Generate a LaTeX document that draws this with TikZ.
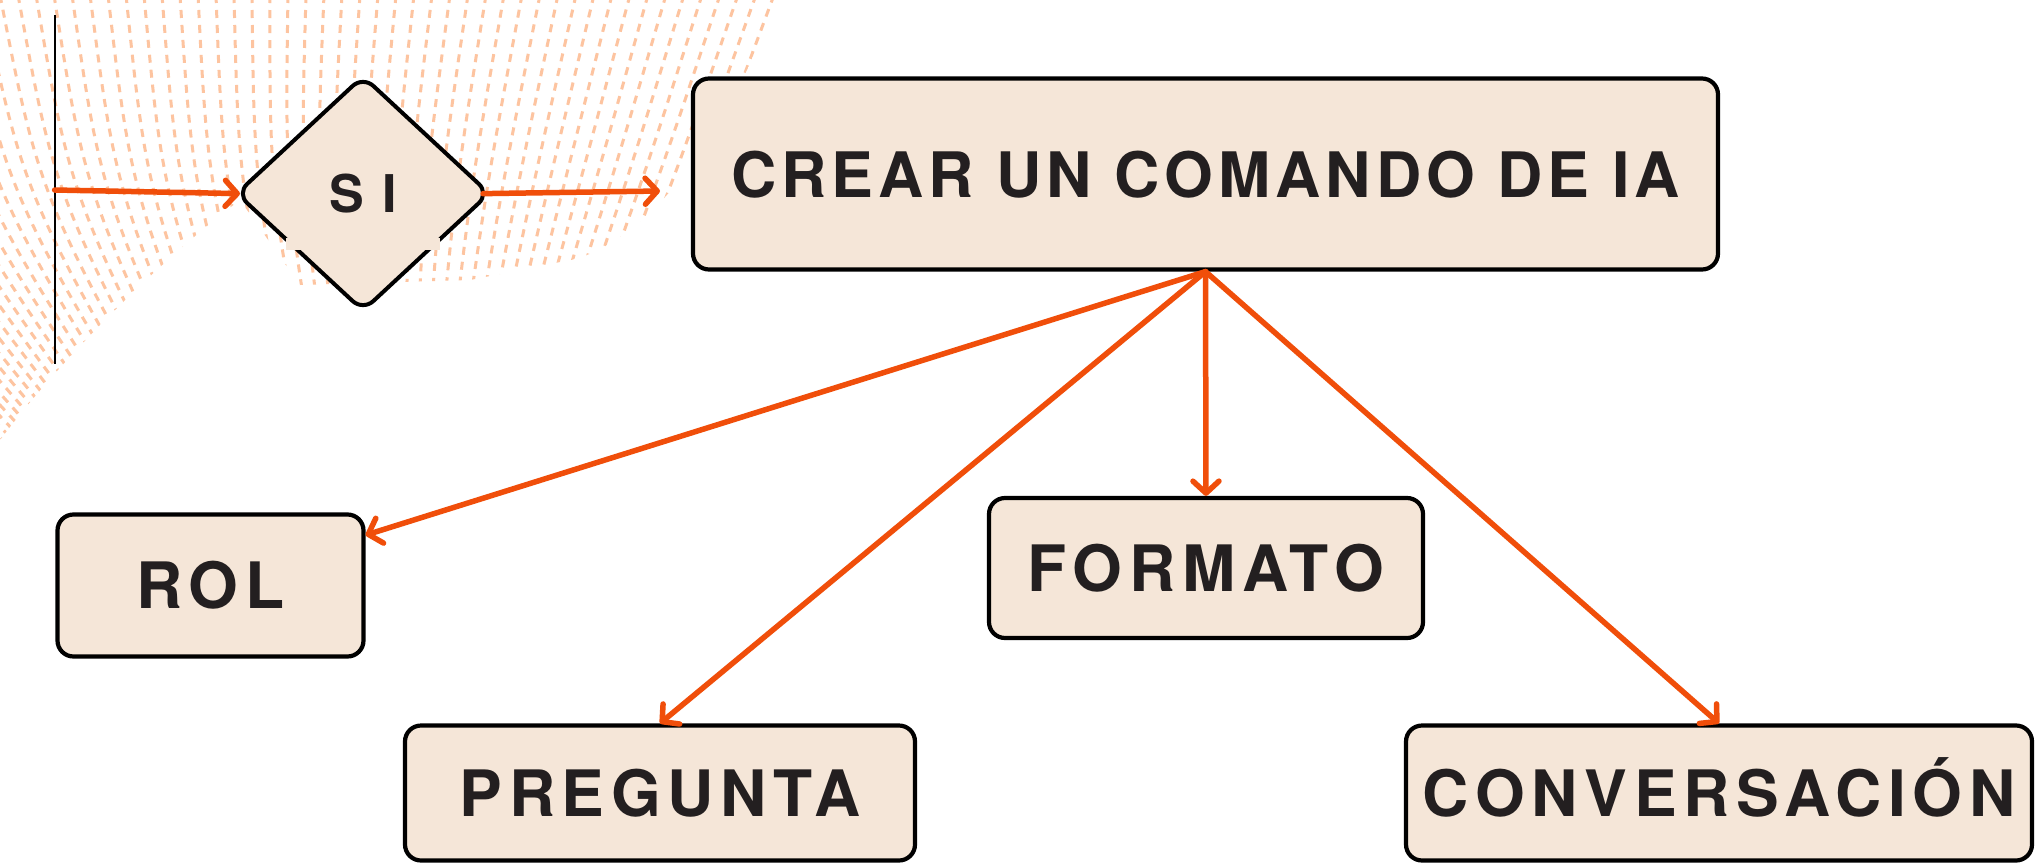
\documentclass[tikz,border=0pt]{standalone}
\usepackage{fontspec}
\usetikzlibrary{arrows.meta,shapes.geometric}
\newfontfamily\lblfont[LetterSpace=8]{TeX Gyre Heros}
\newfontfamily\lblfontw[LetterSpace=10.5]{TeX Gyre Heros}
\definecolor{boxfill}{RGB}{245,230,216}
\definecolor{arr}{RGB}{240,78,10}
\definecolor{txt}{RGB}{35,31,32}
\definecolor{dotc}{RGB}{253,196,160}
\tikzset{
  box/.style={draw=black, line width=4.2pt, fill=boxfill, rounded corners=16pt,
    inner sep=0pt, text=txt, text height=46pt, text depth=0pt,
    font=\lblfontw\bfseries\fontsize{64}{70}\selectfont},
  bigbox/.style={box, font=\lblfont\bfseries\fontsize{62.7}{70}\selectfont},
  decision/.style={diamond, draw=black, line width=4pt, fill=boxfill, rounded corners=14pt,
    inner sep=0pt, text=txt, text height=37pt, text depth=0pt,
    font=\lblfont\bfseries\fontsize{52}{56}\selectfont},
  conn/.style={draw=arr, line width=5.5pt, line cap=round,
    -{Straight Barb[length=12pt,width=26pt,line width=5.5pt,round]}},
  dotline/.style={draw=dotc, line width=3pt, dash pattern=on 8pt off 7pt}
}
\begin{document}
\begin{tikzpicture}[x=1pt,y=-1pt]
\useasboundingbox (0,0) rectangle (2037,865);
\fill[white] (0,0) rectangle (2037,865);
% decorative dotted wave
\begin{scope}
\clip (0,0) -- (775,0) .. controls (735,120) and (650,250) .. (560,262) -- (470,280) -- (300,285) -- (240,200) .. controls (160,260) and (60,360) .. (0,440) -- cycle;
\foreach \i in {-25,...,50} {
  \draw[dotline] ({\i*18},-5) .. controls ({\i*18*0.85+40},200) .. ({380+(\i*18-380)*0.45},500);
}
\end{scope}
% vertical line
\coordinate (vt) at (54.6,15);
\coordinate (vb) at (54.6,364);
\coordinate (vm) at (54.6,190);
\draw[line width=2pt] (vt) -- (vb);
% nodes
\node[decision, minimum width=254pt, minimum height=236pt] (si) at (363,193.5) {S I};
\fill[boxfill] (286,238) rectangle (302,250);
\fill[boxfill] (424,238) rectangle (440,250);
\coordinate (sinext) at (660,191);
\node[bigbox, minimum width=1025pt, minimum height=191pt] (crear) at (1205.5,174) {CREAR UN COMANDO DE IA};
\node[box, minimum width=306pt, minimum height=142pt] (rol) at (210.5,585.5) {ROL};
\node[box, minimum width=434pt, minimum height=140pt] (form) at (1206,568) {FORMATO};
\node[box, minimum width=510pt, minimum height=135pt] (preg) at (660,793) {PREGUNTA};
\node[box, minimum width=626pt, minimum height=135pt] (conv) at (1719,793) {CONVERSACIÓN};
% connectors
\draw[conn, shorten >=-6pt] (vm) -- (si.west);
\draw[conn, shorten <=-9pt] (si.east) -- (sinext);
\draw[conn] (crear.south) -- (rol.18);
\draw[conn] (crear.south) -- (preg.north);
\draw[conn] (crear.south) -- (form.north);
\draw[conn] (crear.south) -- (conv.north);
\end{tikzpicture}
\end{document}
